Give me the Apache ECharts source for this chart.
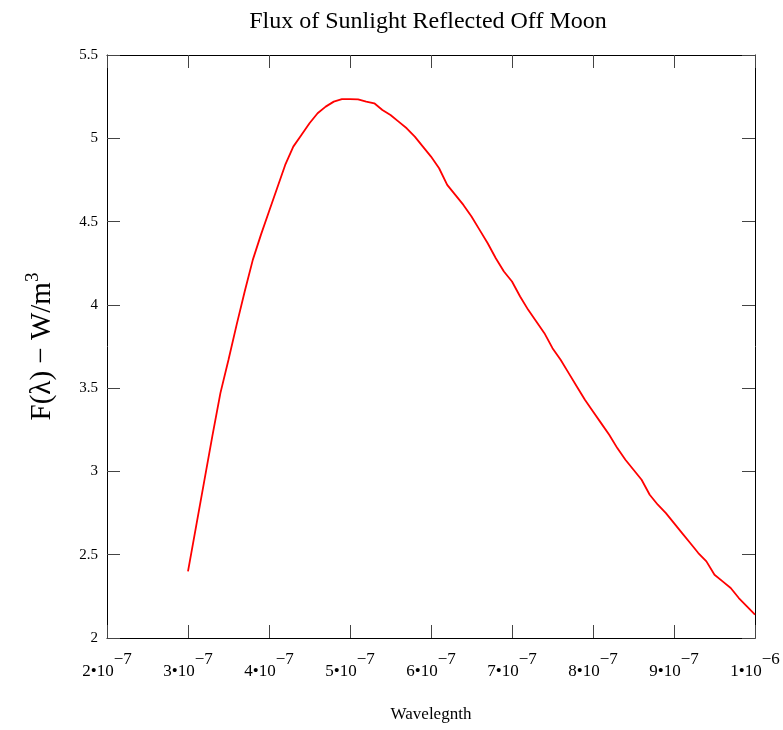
<!DOCTYPE html>
<html lang="en">

<head>
    <meta charset="UTF-8">
    <title>Flux of Sunlight Reflected Off Moon</title>
    <script src="https://cdn.jsdelivr.net/npm/echarts@6/dist/echarts.min.js"></script>
    <style>
        body { margin: 0; background: #fff; }
    </style>
</head>

<body>
    <div id="main" style="width: 783px; height: 730px;"></div>
    <script>
    // wavelength samples in nm, flux
    const wavelengthNm = [
        300, 310, 320, 330, 340, 350, 360, 370, 380, 390,
        400, 410, 420, 430, 440, 450, 460, 470, 480, 490,
        500, 510, 520, 530, 540, 550, 560, 570, 580, 590,
        600, 610, 620, 630, 640, 650, 660, 670, 680, 690,
        700, 710, 720, 730, 740, 750, 760, 770, 780, 790,
        800, 810, 820, 830, 840, 850, 860, 870, 880, 890,
        900, 910, 920, 930, 940, 950, 960, 970, 980, 990, 1000
    ]
    const flux = [
        2.40, 2.67, 2.94, 3.21, 3.47, 3.67, 3.88, 4.08, 4.27, 4.42,
        4.56, 4.70, 4.84, 4.95, 5.02, 5.09, 5.15, 5.19, 5.22, 5.235,
        5.235, 5.234, 5.22, 5.21, 5.17, 5.14, 5.10, 5.06, 5.01, 4.95,
        4.89, 4.82, 4.72, 4.66, 4.60, 4.53, 4.45, 4.37, 4.28, 4.20,
        4.14, 4.05, 3.97, 3.90, 3.83, 3.74, 3.67, 3.59, 3.51, 3.43,
        3.36, 3.29, 3.22, 3.14, 3.07, 3.01, 2.95, 2.86, 2.80, 2.75,
        2.69, 2.63, 2.57, 2.51, 2.46, 2.38, 2.34, 2.30, 2.24, 2.19, 2.14
    ]
    // x tick labels: mantissa and exponent
    const xTickMantissa = ['2', '3', '4', '5', '6', '7', '8', '9', '1']
    const xTickExponent = ['\u22127', '\u22127', '\u22127', '\u22127', '\u22127', '\u22127', '\u22127', '\u22127', '\u22126']

    const serif = '"Liberation Serif", "DejaVu Serif", serif'

    function toPairs(xs, ys) {
        const res = []
        for (let i = 0; i < xs.length; i++) {
            res.push([xs[i] * 1e-9, ys[i]])
        }
        return res
    }

    const tickStyle = { inside: true, length: 13, lineStyle: { color: '#444', width: 1 } }
    const lineStyle = { lineStyle: { color: '#000', width: 1 } }

    const myChart = echarts.init(document.getElementById('main'))
    const option = {
        backgroundColor: '#fff',
        animation: false,
        title: {
            text: 'Flux of Sunlight Reflected Off Moon',
            left: 423,
            textAlign: 'center',
            top: 5,
            textStyle: {
                fontFamily: serif,
                fontSize: 24,
                fontWeight: 'normal',
                color: '#000'
            }
        },
        grid: {
            left: 107,
            right: 28,
            top: 55,
            bottom: 92
        },
        xAxis: [{
            type: 'value',
            position: 'bottom',
            min: 2e-7,
            max: 1e-6,
            interval: 1e-7,
            name: 'Wavelegnth',
            nameLocation: 'middle',
            nameGap: 68,
            nameTextStyle: { fontFamily: serif, fontSize: 17, color: '#000' },
            axisLine: lineStyle,
            axisTick: tickStyle,
            splitLine: { show: false },
            axisLabel: {
                margin: 25,
                showMinLabel: true,
                showMaxLabel: true,
                formatter: function (value, index) {
                    const i = Math.round((value - 2e-7) / 1e-7)
                    return '{b|' + xTickMantissa[i] + '\u202210}{s|' + xTickExponent[i] + '}'
                },
                rich: {
                    b: { fontFamily: serif, fontSize: 17, color: '#000', lineHeight: 17, verticalAlign: 'bottom' },
                    s: { fontFamily: serif, fontSize: 17, color: '#000', lineHeight: 17, verticalAlign: 'bottom', padding: [0, 0, 12, 0] }
                }
            }
        }, {
            type: 'value',
            position: 'top',
            min: 2e-7,
            max: 1e-6,
            interval: 1e-7,
            axisLine: lineStyle,
            axisTick: tickStyle,
            axisLabel: { show: false },
            splitLine: { show: false }
        }],
        yAxis: [{
            type: 'value',
            position: 'left',
            min: 2,
            max: 5.5,
            interval: 0.5,
            name: '{a|F(\u03bb) \u2212 W/m}{s|3}',
            nameLocation: 'middle',
            nameGap: 50,
            nameTextStyle: {
                rich: {
                    a: { fontFamily: serif, fontSize: 29, color: '#000', lineHeight: 29, verticalAlign: 'bottom' },
                    s: { fontFamily: serif, fontSize: 19, color: '#000', lineHeight: 19, verticalAlign: 'bottom', padding: [0, 0, 14, 0] }
                }
            },
            axisLine: lineStyle,
            axisTick: tickStyle,
            splitLine: { show: false },
            axisLabel: {
                margin: 9,
                fontFamily: serif,
                fontSize: 15,
                color: '#000'
            }
        }, {
            type: 'value',
            position: 'right',
            min: 2,
            max: 5.5,
            interval: 0.5,
            axisLine: lineStyle,
            axisTick: tickStyle,
            axisLabel: { show: false },
            splitLine: { show: false }
        }],
        series: [{
            name: 'flux',
            type: 'line',
            xAxisIndex: 0,
            yAxisIndex: 0,
            data: toPairs(wavelengthNm, flux),
            showSymbol: false,
            smooth: false,
            lineStyle: { color: '#ff0000', width: 1.8 }
        }]
    }
    myChart.setOption(option)
    </script>
</body>

</html>
